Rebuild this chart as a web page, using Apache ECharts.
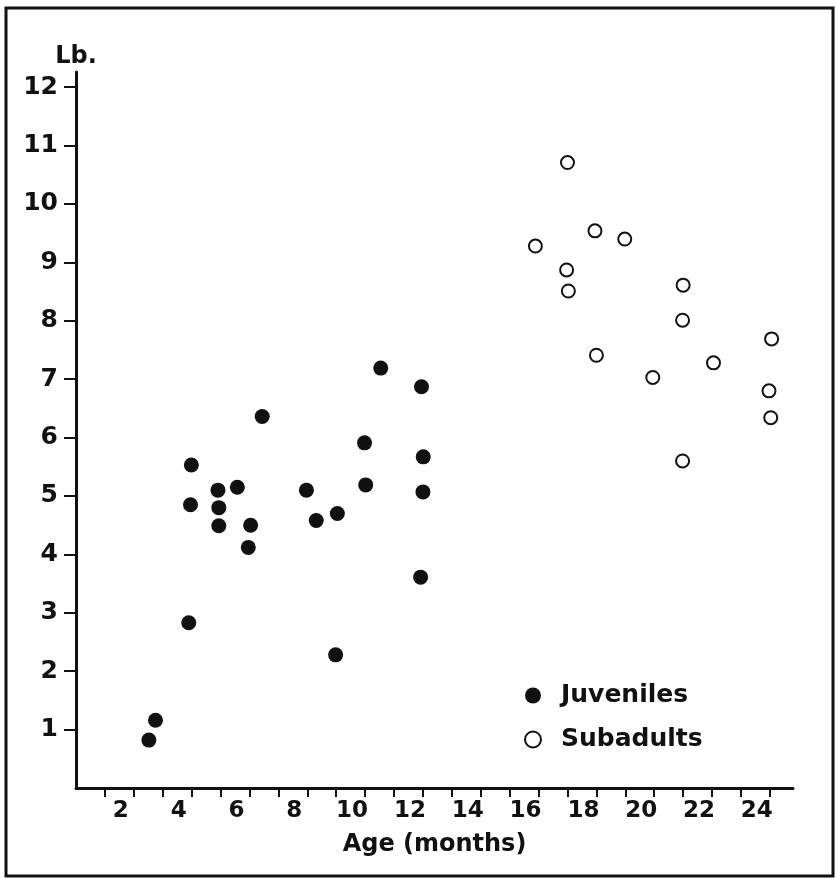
<!DOCTYPE html>
<html>
<head>
<meta charset="utf-8">
<title>Weight vs age</title>
<script src="https://cdn.jsdelivr.net/npm/echarts@6/dist/echarts.min.js"></script>
<style>
  html, body { margin: 0; padding: 0; background: #fff; }
  #chart { width: 837px; height: 878px; }
</style>
</head>
<body>
<div id="chart"></div>
<script>
// ages (months) and weights (lb.)
var juvAge = [2.52, 2.75, 3.9, 3.96, 3.99, 4.91, 4.94, 4.94, 5.58, 5.96, 6.04, 6.44, 7.97, 8.31, 8.98, 9.04, 9.98, 10.02, 10.54, 11.92, 11.95, 12.0, 12.01];
var juvLb  = [0.82, 1.16, 2.83, 4.85, 5.53, 5.10, 4.80, 4.49, 5.15, 4.12, 4.50, 6.36, 5.10, 4.58, 2.28, 4.70, 5.91, 5.19, 7.19, 3.61, 6.87, 5.07, 5.67];

var subAge = [15.89, 16.97, 17.0, 17.03, 17.95, 18.0, 18.98, 19.95, 20.98, 20.98, 21.0, 22.05, 23.97, 24.03, 24.06];
var subLb  = [9.28, 8.87, 10.71, 8.51, 9.54, 7.41, 9.40, 7.03, 5.60, 8.01, 8.61, 7.28, 6.80, 6.34, 7.69];

var xTicks = [1, 2, 3, 4, 5, 6, 7, 8, 9, 10, 11, 12, 13, 14, 15, 16, 17, 18, 19, 20, 21, 22, 23, 24];
var xLabels = [2, 4, 6, 8, 10, 12, 14, 16, 18, 20, 22, 24];
var yTicks = [1, 2, 3, 4, 5, 6, 7, 8, 9, 10, 11, 12];

var ink = '#111';
var font = 'DejaVu Sans';

function pairs(xs, ys) {
  var out = [];
  for (var i = 0; i < xs.length; i++) out.push([xs[i], ys[i]]);
  return out;
}

var chart = echarts.init(document.getElementById('chart'));

var option = {
  backgroundColor: '#fff',
  animation: false,
  textStyle: { fontFamily: font, color: ink },
  graphic: [{
    type: 'rect',
    shape: { x: 6, y: 8, width: 827, height: 868 },
    style: { fill: null, stroke: ink, lineWidth: 3 }
  }],
  grid: {
    left: 76, right: 44, top: 72, bottom: 90,
    outerBoundsMode: 'none'
  },
  legend: {
    orient: 'vertical',
    left: 519,
    top: 678,
    itemWidth: 46,
    itemHeight: 16,
    itemGap: 19,
    textStyle: { fontFamily: font, fontSize: 25, fontWeight: 'bold', color: ink },
    data: ['Juveniles', 'Subadults']
  },
  xAxis: {
    type: 'value',
    min: 0,
    max: 24.8,
    interval: 1,
    name: 'Age (months)',
    nameLocation: 'middle',
    nameGap: 45,
    nameTextStyle: { fontFamily: font, fontSize: 24, fontWeight: 'bold', color: ink },
    splitLine: { show: false },
    axisLine: { lineStyle: { color: ink, width: 3 } },
    axisTick: { customValues: xTicks, length: 9, lineStyle: { color: ink, width: 2 } },
    axisLabel: {
      customValues: xLabels,
      fontFamily: font, fontSize: 23, fontWeight: 'bold', color: ink,
      margin: 12,
      padding: [0, 26, 0, 0]
    }
  },
  yAxis: {
    type: 'value',
    min: 0,
    max: 12.26,
    interval: 1,
    name: 'Lb.',
    nameLocation: 'end',
    nameGap: 3,
    nameTextStyle: { fontFamily: font, fontSize: 24, fontWeight: 'bold', color: ink, align: 'center' },
    splitLine: { show: false },
    axisLine: { lineStyle: { color: ink, width: 3 } },
    axisTick: { customValues: yTicks, length: 12, lineStyle: { color: ink, width: 2 } },
    axisLabel: {
      customValues: yTicks,
      fontFamily: font, fontSize: 25, fontWeight: 'bold', color: ink,
      margin: 18
    }
  },
  series: [
    {
      name: 'Juveniles',
      type: 'scatter',
      symbol: 'circle',
      symbolSize: 15,
      itemStyle: { color: ink, opacity: 1 },
      data: pairs(juvAge, juvLb)
    },
    {
      name: 'Subadults',
      type: 'scatter',
      symbol: 'circle',
      symbolSize: 13,
      itemStyle: { color: '#fff', borderColor: ink, borderWidth: 2, opacity: 1 },
      data: pairs(subAge, subLb)
    }
  ]
};

chart.setOption(option);
</script>
</body>
</html>
